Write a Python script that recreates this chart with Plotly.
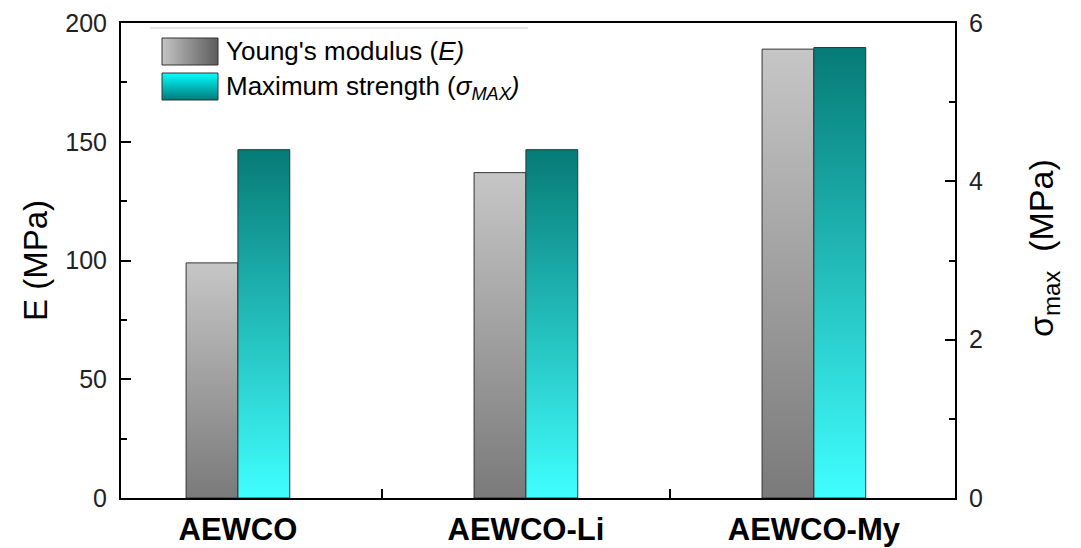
import plotly.graph_objects as go

categories = ["AEWCO", "AEWCO-Li", "AEWCO-My"]
young_modulus = [99, 137, 189]          # E (MPa), left axis
max_strength = [4.40, 4.40, 5.69]       # sigma_max (MPa), right axis

W, H = 1081, 548
L, R, T, B = 121, 955, 23, 498
FONT = "Arial, Liberation Sans, sans-serif"
BW = 0.18  # bar width in category units

gray_scale = [[0, "#7a7a7a"], [1, "#c6c6c6"]]
cyan_scale = [[0, "#40ffff"], [1, "#067b77"]]

fig = go.Figure()

for i, v in enumerate(young_modulus):
    x0, x1 = i - BW, i
    fig.add_trace(go.Scatter(
        x=[x0, x0, x1, x1, x0], y=[0, v, v, 0, 0],
        mode="lines", fill="toself", line=dict(color="#333333", width=1),
        fillgradient=dict(type="vertical", colorscale=gray_scale),
        showlegend=False, hoverinfo="skip", xaxis="x", yaxis="y"))

for i, v in enumerate(max_strength):
    x0, x1 = i, i + BW
    fig.add_trace(go.Scatter(
        x=[x0, x0, x1, x1, x0], y=[0, v, v, 0, 0],
        mode="lines", fill="toself", line=dict(color="#333333", width=1),
        fillgradient=dict(type="vertical", colorscale=cyan_scale),
        showlegend=False, hoverinfo="skip", xaxis="x", yaxis="y2"))

# legend swatches on a helper axis (0..1 over the plot area)
def px_to_frac(px, py):
    return (px - L) / (R - L), (B - py) / (B - T)

sx0, sy0 = px_to_frac(162, 65)
sx1, sy1 = px_to_frac(218, 38)
fig.add_trace(go.Scatter(
    x=[sx0, sx0, sx1, sx1, sx0], y=[sy0, sy1, sy1, sy0, sy0],
    mode="lines", fill="toself", line=dict(color="#333333", width=1),
    fillgradient=dict(type="horizontal", colorscale=[[0, "#c4c4c4"], [1, "#5c5c5c"]]),
    showlegend=False, hoverinfo="skip", xaxis="x3", yaxis="y3"))
cx0, cy0 = px_to_frac(162, 100)
cx1, cy1 = px_to_frac(218, 73)
fig.add_trace(go.Scatter(
    x=[cx0, cx0, cx1, cx1, cx0], y=[cy0, cy1, cy1, cy0, cy0],
    mode="lines", fill="toself", line=dict(color="#333333", width=1),
    fillgradient=dict(type="vertical", colorscale=[[0, "#007a7a"], [1, "#00ffff"]]),
    showlegend=False, hoverinfo="skip", xaxis="x3", yaxis="y3"))

tx, ty1 = px_to_frac(224, 51)
_, ty2 = px_to_frac(224, 87)
rtx, rty = px_to_frac(1043, 248)
annotations = [
    dict(x=tx, y=ty1, xref="x3", yref="y3", xanchor="left", yanchor="middle",
         text="Young's modulus (<i>E)</i>", showarrow=False,
         font=dict(family=FONT, size=26, color="black")),
    dict(x=tx, y=ty2, xref="x3", yref="y3", xanchor="left", yanchor="middle",
         text="Maximum strength (<i>σ<sub>MAX</sub>)</i>", showarrow=False,
         font=dict(family=FONT, size=26, color="black")),
    dict(x=rtx, y=rty, xref="paper", yref="paper", xanchor="center", yanchor="middle",
         textangle=-90, showarrow=False,
         text="σ<sub><span style='font-size:24px'>max</span></sub>&nbsp; (MPa)",
         font=dict(family=FONT, size=34, color="black")),
]

lx0, ly = px_to_frac(150, 28)
lx1, _ = px_to_frac(528, 28)
shapes = [dict(type="line", xref="paper", yref="paper", x0=lx0, x1=lx1, y0=ly, y1=ly,
               line=dict(color="#c8c8c8", width=1))]

axis_common = dict(showline=True, linecolor="black", linewidth=2, showgrid=False,
                   zeroline=False, ticks="inside", tickcolor="black", tickwidth=1.5,
                   automargin=False, ticklabelstandoff=7,
                   tickfont=dict(family=FONT, size=25, color="#222222"))

fig.update_layout(
    width=W, height=H,
    margin=dict(l=L, r=W - R, t=T, b=H - B),
    paper_bgcolor="white", plot_bgcolor="white",
    showlegend=False,
    xaxis=dict(range=[-0.406, 2.49], showline=True, linecolor="black", linewidth=2,
               mirror=True, showgrid=False, zeroline=False, automargin=False,
               tickvals=[0, 1, 2], ticktext=["<b>%s</b>" % c for c in categories],
               ticks="", ticklabelstandoff=3,
               tickfont=dict(family=FONT, size=31, color="black"),
               minor=dict(ticks="inside", tick0=0.5, dtick=1, ticklen=9,
                          tickcolor="black", tickwidth=1.5, showgrid=False)),
    yaxis=dict(range=[0, 200], dtick=50, ticklen=10,
               minor=dict(ticks="inside", dtick=25, ticklen=6, tickcolor="black",
                          tickwidth=1.5, showgrid=False),
               title=dict(text="E (MPa)", standoff=8,
                          font=dict(family=FONT, size=33, color="black")),
               **axis_common),
    yaxis2=dict(range=[0, 6], dtick=2, ticklen=10, overlaying="y", side="right",
                minor=dict(ticks="inside", dtick=1, ticklen=6, tickcolor="black",
                           tickwidth=1.5, showgrid=False),
                **axis_common),
    xaxis3=dict(domain=[0, 1], range=[0, 1], overlaying="x", visible=False, fixedrange=True),
    yaxis3=dict(domain=[0, 1], range=[0, 1], overlaying="y", visible=False, fixedrange=True),
    annotations=annotations,
    shapes=shapes,
)

fig.write_html("out.html", config={"displayModeBar": False},
               post_script="document.body.style.margin='0px';")
